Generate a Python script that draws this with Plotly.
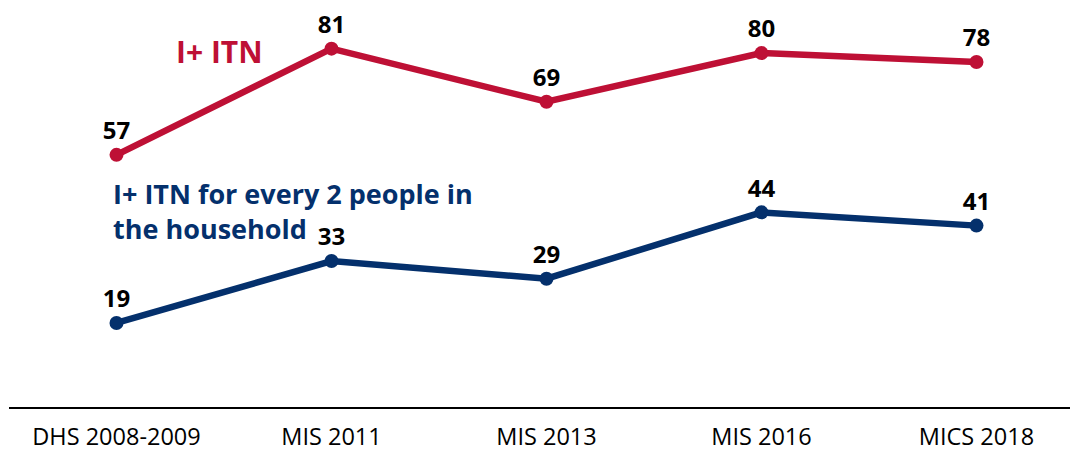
import plotly.graph_objects as go

surveys = ["DHS 2008-2009", "MIS 2011", "MIS 2013", "MIS 2016", "MICS 2018"]
any_itn = [57, 81, 69, 80, 78]
itn_per_two = [19, 33, 29, 44, 41]

RED = "#BE1035"
NAVY = "#04306C"

fig = go.Figure()
for vals, color in [(any_itn, RED), (itn_per_two, NAVY)]:
    fig.add_trace(go.Scatter(
        x=list(range(len(surveys))), y=vals,
        mode="lines+markers+text",
        line=dict(color=color, width=6.5),
        marker=dict(color=color, size=14),
        text=[str(v) for v in vals],
        textposition="top center",
        textfont=dict(family="Open Sans", size=24, color="#000000", weight="bold"),
        showlegend=False, cliponaxis=False,
    ))

fig.add_annotation(x=0.48, y=80.4, xref="x", yref="y", text="I+ ITN",
                   showarrow=False,
                   font=dict(family="Open Sans", size=30, weight="bold", color=RED),
                   xanchor="center", yanchor="middle")
fig.add_annotation(x=-0.025, y=44.3, xref="x", yref="y",
                   text="I+ ITN for every 2 people in<br>the household",
                   showarrow=False,
                   font=dict(family="Open Sans", size=27, weight="bold", color=NAVY),
                   xanchor="left", yanchor="middle", align="left")

fig.update_layout(
    width=1070, height=455,
    margin=dict(l=9, r=0, t=0, b=48),
    paper_bgcolor="white", plot_bgcolor="white",
    xaxis=dict(
        range=[-0.5, 4.435], tickmode="array",
        tickvals=list(range(len(surveys))), ticktext=surveys,
        showgrid=False, zeroline=False, showline=True,
        linecolor="#000000", linewidth=1.5, ticks="",
        ticklabelstandoff=8, automargin=False,
        tickfont=dict(family="Open Sans", size=23.5, color="#000000"),
    ),
    yaxis=dict(range=[0, 92], visible=False, showgrid=False, zeroline=False,
               automargin=False),
)

fig.write_html("out.html")
